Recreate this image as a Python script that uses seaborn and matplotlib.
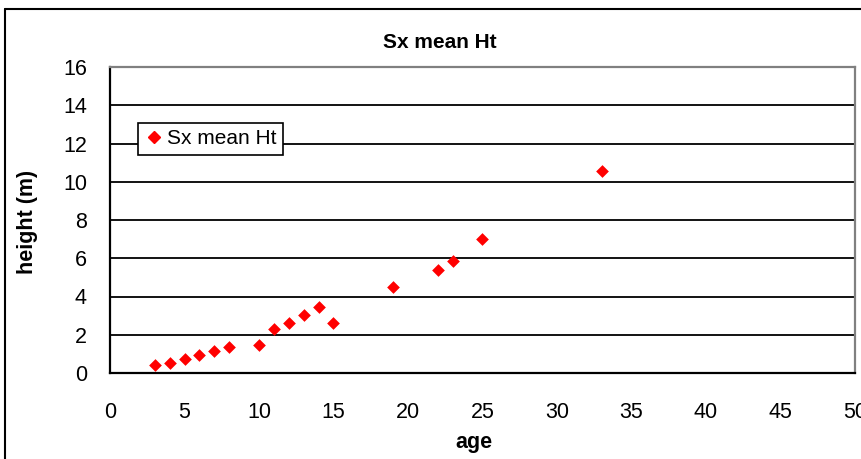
import matplotlib
matplotlib.use("Agg")
import matplotlib.pyplot as plt
import seaborn as sns
import pandas as pd
from matplotlib.lines import Line2D

age = [3, 4, 5, 6, 7, 8, 10, 11, 12, 13, 14, 15, 19, 22, 23, 25, 33]
height = [0.42, 0.53, 0.73, 0.94, 1.16, 1.36, 1.46, 2.32, 2.61, 3.05, 3.45, 2.64,
          4.52, 5.36, 5.88, 7.02, 10.57]
series_name = "Sx mean Ht"
x_label = "age"
y_label = "height (m)"
x_ticks = [0, 5, 10, 15, 20, 25, 30, 35, 40, 45, 50]
y_ticks = [0, 2, 4, 6, 8, 10, 12, 14, 16]

df = pd.DataFrame({"age": age, "height": height, "series": series_name})

sns.set_style("white")
plt.rcParams["font.family"] = ["Liberation Sans", "DejaVu Sans"]
plt.rcParams["text.color"] = "black"
plt.rcParams["axes.labelcolor"] = "black"
plt.rcParams["xtick.color"] = "black"
plt.rcParams["ytick.color"] = "black"

W, H = 862, 459
fig = plt.figure(figsize=(W / 100, H / 100), dpi=100)
ax = fig.add_axes([110 / W, 1 - 373 / H, 745 / W, 306 / H])

sns.scatterplot(data=df, x="age", y="height", ax=ax, marker="D", color="#ff0000",
                s=42, linewidth=0, legend=False, zorder=3)

ax.set_xlim(0, 50)
ax.set_ylim(0, 16)
ax.set_xticks(x_ticks)
ax.set_yticks(y_ticks)
ax.tick_params(axis="both", which="major", labelsize=15.5, direction="out",
               width=1.2, color="black", labelcolor="black")
ax.tick_params(axis="x", length=5.8, pad=15)
ax.tick_params(axis="y", length=7.2, pad=9.4)

for y in y_ticks[1:-1]:
    ax.axhline(y, color="black", lw=1.3, zorder=1)

for side in ["left", "bottom"]:
    ax.spines[side].set_color("black")
    ax.spines[side].set_linewidth(1.6)
for side in ["top", "right"]:
    ax.spines[side].set_visible(True)
    ax.spines[side].set_color("#808080")
    ax.spines[side].set_linewidth(1.6)

ax.set_xlabel("")
ax.set_ylabel("")
fig.text(440 / W, 1 - 47.7 / H, series_name, fontsize=15, fontweight="bold",
         ha="center", va="baseline")
fig.text(474 / W, 1 - 448 / H, x_label, fontsize=15.5, fontweight="bold",
         ha="center", va="baseline")
fig.text(28 / W, 1 - 222 / H, y_label, fontsize=15.5, fontweight="bold",
         ha="center", va="center", rotation=90)

handle = Line2D([], [], marker="D", color="#ff0000", linestyle="none", markersize=6.5)
leg = ax.legend([handle], [series_name], loc="upper left",
                bbox_to_anchor=(28 / 745, 250 / 306), fontsize=15, frameon=True,
                fancybox=False, edgecolor="black", framealpha=1,
                handletextpad=0.2, handlelength=0.9, borderpad=0.3,
                borderaxespad=0)
leg.get_frame().set_linewidth(1.2)

# outer chart border (partially cropped on right and bottom)
fig.add_artist(Line2D([5 / W, 1.0], [1 - 9 / H, 1 - 9 / H],
                      transform=fig.transFigure, color="black", lw=1.5))
fig.add_artist(Line2D([5 / W, 5 / W], [0, 1 - 9 / H],
                      transform=fig.transFigure, color="black", lw=1.5))

fig.savefig("out.png", dpi=100)
